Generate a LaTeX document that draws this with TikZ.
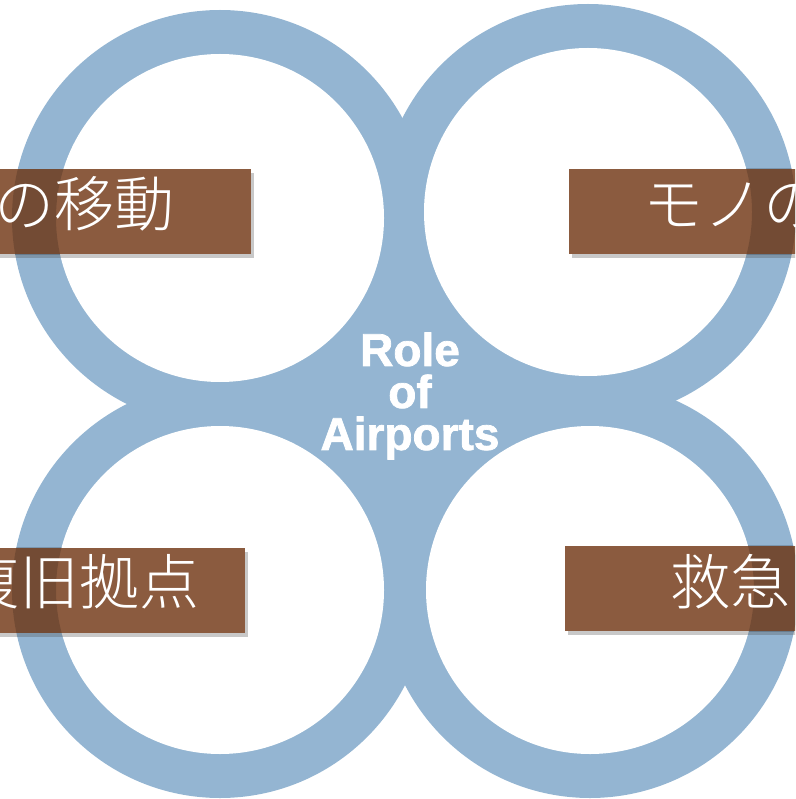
\documentclass[tikz,border=0pt]{standalone}
\usepackage{fontspec}
\IfFontExistsTF{Noto Sans CJK JP Light}
  {\newfontfamily\jpfont{Noto Sans CJK JP Light}}
  {\IfFontExistsTF{Noto Sans CJK JP DemiLight}
    {\newfontfamily\jpfont{Noto Sans CJK JP DemiLight}}
    {\newfontfamily\jpfont{Noto Sans CJK JP}}}
\newfontfamily\titlefont{Liberation Sans}[BoldFeatures={FakeBold=1.6}]
\usepackage{tikz}
\usetikzlibrary{shadows}
\definecolor{ringblue}{RGB}{148,181,210}
\definecolor{boxbrown}{RGB}{139,91,63}
\tikzstyle{ring} = [fill=ringblue]
\tikzstyle{hole} = [fill=white]
\tikzstyle{tag} = [rectangle, fill=boxbrown, minimum width=455pt, minimum height=85pt, inner sep=0pt, drop shadow={opacity=0.3, fill=black!70, shadow xshift=3pt, shadow yshift=-4pt}]
\tikzstyle{tagtext} = [text=white, font=\jpfont\fontsize{60}{60}\selectfont, inner sep=0pt]
\tikzstyle{tint} = [fill=black, fill opacity=0.17, even odd rule]

\begin{document}
\begin{tikzpicture}[x=1pt,y=-1pt]
\useasboundingbox (0,0) rectangle (795,799);
\clip (0,0) rectangle (795,799);

% rings
\fill [ring] (220,218) rectangle (590,590);
\fill [ring] (220,218) circle (208pt);
\fill [ring] (588,212) circle (208pt);
\fill [ring] (220,590) circle (208pt);
\fill [ring] (590,590) circle (208pt);
\fill [hole] (220,218) circle (164pt);
\fill [hole] (588,212) circle (164pt);
\fill [hole] (220,590) circle (164pt);
\fill [hole] (590,590) circle (164pt);

% boxes
\node [tag] (people) at (23.5,212) {};
\begin{scope}
\clip (people.south west) rectangle (people.north east);
\fill [tint] (220,218) circle (208pt) (220,218) circle (164pt);
\end{scope}
\node [tagtext, anchor=east] (peopletext) at (175,204) {の移動};

\node [tag] (goods) at (796.5,211.5) {};
\begin{scope}
\clip (goods.south west) rectangle (goods.north east);
\fill [tint] (588,212) circle (208pt) (588,212) circle (164pt);
\end{scope}
\node [tagtext, anchor=west] (goodstext) at (643,205) {モノの};

\node [tag] (base) at (17.5,590) {};
\begin{scope}
\clip (base.south west) rectangle (base.north east);
\fill [tint] (220,590) circle (208pt) (220,590) circle (164pt);
\end{scope}
\node [tagtext, anchor=east] (basetext) at (200,582) {復旧拠点};

\node [tag] (rescue) at (792.5,588.5) {};
\begin{scope}
\clip (rescue.south west) rectangle (rescue.north east);
\fill [tint] (590,590) circle (208pt) (590,590) circle (164pt);
\end{scope}
\node [tagtext, anchor=west] (rescuetext) at (670,582) {救急};

% centre text
\node [text=white, align=center, font=\titlefont\bfseries\fontsize{46}{42}\selectfont] (role) at (410,396) {Role\\of\\Airports};
\end{tikzpicture}
\end{document}
